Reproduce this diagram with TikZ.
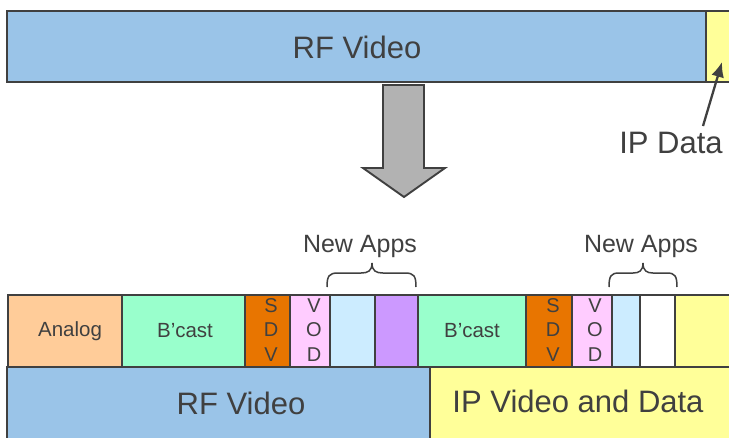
\documentclass[tikz,border=0pt]{standalone}
\usepackage{fontspec}
\setmainfont{Liberation Sans}
\usetikzlibrary{arrows.meta}
\definecolor{ink}{HTML}{404040}
\definecolor{rfblue}{HTML}{9AC4E8}
\definecolor{ipyellow}{HTML}{FFFF99}
\definecolor{analog}{HTML}{FFCC99}
\definecolor{bcast}{HTML}{99FFCC}
\definecolor{sdv}{HTML}{E87500}
\definecolor{vod}{HTML}{FFCCFF}
\definecolor{appblue}{HTML}{CCECFF}
\definecolor{apppurple}{HTML}{CC99FF}
\definecolor{arrowgray}{HTML}{B2B2B2}
\tikzset{
  seg/.style={draw=ink, line width=1.9pt},
  big/.style={text=ink, font=\fontsize{31}{31}\selectfont, inner sep=0pt},
  mid/.style={text=ink, font=\fontsize{25}{25}\selectfont, inner sep=0pt},
  small/.style={text=ink, font=\fontsize{20.5}{20.5}\selectfont, inner sep=0pt},
  letter/.style={text=ink, font=\fontsize{20}{20}\selectfont, inner sep=0pt},
  bracket/.style={draw=ink, line width=1.5pt},
}
\begin{document}
\begin{tikzpicture}[x=1pt, y=-1pt]
\clip (0,0) rectangle (729,437);
\fill[white] (0,0) rectangle (729,437);

% upper spectrum bar
\filldraw[seg, fill=rfblue] (7,11) rectangle (706,82);
\filldraw[seg, fill=ipyellow] (706,11) rectangle (740,82);
\node[big] (rftop) at (357,47) {RF Video};
\coordinate (ipslot) at (722,62);
\node[big] (ipdata) at (671,143) {IP Data};
\draw[draw=ink, line width=2.3pt, -{Latex[length=15pt,width=13pt]}] (703,126) -- (ipslot);

% transition arrow
\filldraw[draw=ink, line width=1.9pt, fill=arrowgray]
  (383,85) -- (424,85) -- (424,168) -- (445,168) -- (404,197)
  -- (363,168) -- (383,168) -- cycle;

% lower spectrum: channel segments
\filldraw[seg, fill=analog]    (8,295)   rectangle (122,367);
\filldraw[seg, fill=bcast]     (122,295) rectangle (245,367);
\filldraw[seg, fill=sdv]       (245,295) rectangle (290,367);
\filldraw[seg, fill=vod]       (290,295) rectangle (330,367);
\filldraw[seg, fill=appblue]   (330,295) rectangle (375,367);
\filldraw[seg, fill=apppurple] (375,295) rectangle (418,367);
\filldraw[seg, fill=bcast]     (418,295) rectangle (526,367);
\filldraw[seg, fill=sdv]       (526,295) rectangle (572,367);
\filldraw[seg, fill=vod]       (572,295) rectangle (612,367);
\filldraw[seg, fill=appblue]   (612,295) rectangle (640,367);
\filldraw[seg, fill=white]     (640,295) rectangle (675,367);
\filldraw[seg, fill=ipyellow]  (675,295) rectangle (740,367);

\node[small] (analog) at (70,331) {Analog};
\node[small] (bcastA) at (185,331) {B’cast};
\node[small] (bcastB) at (472,331) {B’cast};

\foreach \x/\n in {271/A, 553/B} {
  \node[letter] (sdvS\n) at (\x,306) {S};
  \node[letter] (sdvD\n) at (\x,330) {D};
  \node[letter] (sdvV\n) at (\x,355) {V};
}
\foreach \x/\n in {314/A, 595/B} {
  \node[letter] (vodV\n) at (\x,306) {V};
  \node[letter] (vodO\n) at (\x,330) {O};
  \node[letter] (vodD\n) at (\x,355) {D};
}

% lower spectrum: service groups
\filldraw[seg, fill=rfblue]   (7,367)   rectangle (430,450);
\filldraw[seg, fill=ipyellow] (430,367) rectangle (740,450);
\node[big] (rfbottom) at (241,403) {RF Video};
\node[big] (ipvideo) at (578,401) {IP Video and Data};

% new application groups
\draw[bracket] (327,287) .. controls (327,276) and (329,273) .. (338,273)
  -- (361,273) .. controls (368,273) and (372,271) .. (372,263)
  .. controls (372,271) and (376,273) .. (383,273)
  -- (405,273) .. controls (414,273) and (416,276) .. (416,287);
\node[mid] (appsA) at (360,246) {New Apps};

\draw[bracket] (609,287) .. controls (609,276) and (611,273) .. (619,273)
  -- (633,273) .. controls (639,273) and (643,271) .. (643,263)
  .. controls (643,271) and (647,273) .. (653,273)
  -- (667,273) .. controls (675,273) and (677,276) .. (677,287);
\node[mid] (appsB) at (641,246) {New Apps};
\end{tikzpicture}
\end{document}
